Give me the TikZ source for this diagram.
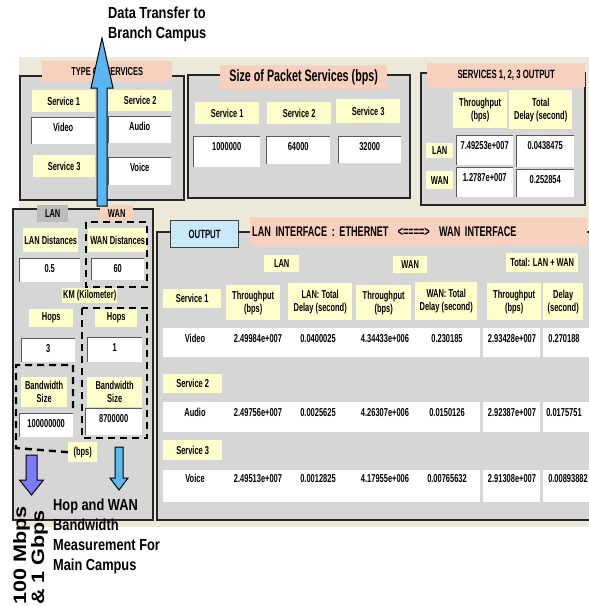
\documentclass[tikz,border=0pt]{standalone}
\usepackage{fontspec}
\setmainfont{Liberation Sans}
\newfontfamily\uifont[FakeStretch=0.65]{Liberation Sans}
\newfontfamily\notefont[FakeStretch=0.8]{Liberation Sans}
\newfontfamily\widefont[FakeStretch=1.2]{Liberation Sans}
\usetikzlibrary{calc}
\definecolor{xpbeige}{HTML}{ECE9D8}
\definecolor{panelgray}{HTML}{D6D6D6}
\definecolor{paleyellow}{HTML}{FFFFCC}
\definecolor{peach}{HTML}{F7D1BD}
\definecolor{langray}{HTML}{BCBCBC}
\definecolor{btnblue}{HTML}{C8E9FA}
\definecolor{upblue}{HTML}{5AB6F2}
\definecolor{lanblue}{HTML}{7C7CFA}
\definecolor{wanblue}{HTML}{5ABAF0}
\tikzset{
  % fenster
  grp/.style={fill=panelgray,draw=black!85,line width=1.4pt},
  ttl/.style={fill=peach,anchor=north west,inner sep=0pt,
              font=\uifont\bfseries\fontsize{11.5}{13}\selectfont},
  lbl/.style={fill=paleyellow,anchor=north west,inner sep=0pt,align=center,
              font=\uifont\bfseries\fontsize{11.5}{13}\selectfont},
  ebox/.style={fill=white,anchor=north west,inner xsep=0pt,inner ysep=3pt,
               text height=11.5pt,text depth=#1,
               font=\uifont\bfseries\fontsize{11.5}{13}\selectfont,
               path picture={\draw[black!65,line width=1.5pt]
                 (path picture bounding box.south west) |- (path picture bounding box.north east);}},
  ebox/.default=8pt,
  btn/.style={fill=btnblue,draw=black!75,line width=1.2pt,anchor=north west,inner sep=0pt,
              font=\uifont\bfseries\fontsize{12}{13}\selectfont},
  band/.style={fill=white,anchor=north west,inner sep=0pt},
  val/.style={anchor=base,inner sep=0pt,font=\uifont\bfseries\fontsize{11.5}{13}\selectfont},
  dashbox/.style={draw=black,line width=2.4pt,dash pattern=on 7pt off 5pt},
  % pfeile
  blk/.style={draw=black,line width=1pt,line join=miter},
  note/.style={anchor=north west,inner sep=0pt,align=left,
               font=\notefont\bfseries\fontsize{16}{20}\selectfont},
}
\begin{document}
\begin{tikzpicture}[x=1pt,y=-1pt]
\useasboundingbox (0,0) rectangle (589,606);
\clip (0,0) rectangle (589,606);
\fill[xpbeige] (19,57) rectangle (600,527);
% gruppen
\draw[grp] (20,76) rectangle (184,200);
\draw[grp] (188,75) rectangle (410,198);
\draw[grp] (421,73) rectangle (585,205);
\draw[grp] (13,209) rectangle (153,520);
\draw[grp] (157,232) rectangle (600,520);
% titel
\node[ttl,minimum width=130pt,minimum height=21pt] (typT) at (42,61) {TYPE OF SERVICES};
\node[ttl,minimum width=167pt,minimum height=24pt,font=\uifont\bfseries\fontsize{16.5}{18}\selectfont] (sizeT) at (220,65) {Size of Packet Services (bps)};
\node[ttl,minimum width=158pt,minimum height=24pt,font=\uifont\bfseries\fontsize{12}{13}\selectfont] (outT) at (427,63) {SERVICES 1, 2, 3 OUTPUT};
\node[ttl,fill=langray,minimum width=31pt,minimum height=17pt] (lanT) at (37,205) {LAN};
\node[ttl,minimum width=33pt,minimum height=17pt] (wanT) at (100,205) {WAN};
\node[ttl,text width=333pt,inner xsep=2pt,minimum height=29pt,align=left,font=\uifont\bfseries\fontsize{14}{15}\selectfont] (ifaceT) at (250,217) {LAN INTERFACE : ETHERNET \ <====> \ WAN INTERFACE};
\node[btn,minimum width=68pt,minimum height=27pt] (outBtn) at (170,220) {OUTPUT};
% type of services
\node[lbl,minimum width=63pt,minimum height=22pt] (typS1) at (32,90) {Service 1};
\node[lbl,minimum width=64pt,minimum height=21pt] (typS2) at (108,90) {Service 2};
\node[lbl,minimum width=62pt,minimum height=22pt] (typS3) at (33,155) {Service 3};
\node[ebox=9.5pt,minimum width=64pt] (typVid) at (31,117) {Video};
\node[ebox=9.5pt,minimum width=63pt] (typAud) at (108,116) {Audio};
\node[ebox=10.5pt,minimum width=63pt] (typVoi) at (108,157) {Voice};
% packet size
\node[lbl,minimum width=64pt,minimum height=22pt] (sizS1) at (195,102) {Service 1};
\node[lbl,minimum width=64pt,minimum height=22pt] (sizS2) at (267,102) {Service 2};
\node[lbl,minimum width=64pt,minimum height=24pt] (sizS3) at (336,99) {Service 3};
\node[ebox=13.5pt,minimum width=67pt] (sizV1) at (193,136) {1000000};
\node[ebox=10.5pt,minimum width=64pt] (sizV2) at (266,136) {64000};
\node[ebox=9.5pt,minimum width=63pt] (sizV3) at (338,136) {32000};
% services output
\node[lbl,minimum width=54pt,minimum height=36pt] (totThr) at (453,92) {Throughput\\(bps)};
\node[lbl,minimum width=63pt,minimum height=39pt] (totDel) at (509,90) {Total\\Delay (second)};
\node[lbl,minimum width=27pt,minimum height=15pt] (totLan) at (426,143) {LAN};
\node[lbl,minimum width=27pt,minimum height=18pt] (totWan) at (426,171) {WAN};
\node[ebox=12.5pt,minimum width=57pt] (totLanThr) at (456,135) {7.49253e+007};
\node[ebox=14.5pt,minimum width=58pt] (totLanDel) at (516,135) {0.0438475};
\node[ebox=12.5pt,minimum width=57pt] (totWanThr) at (456,167) {1.2787e+007};
\node[ebox=10.5pt,minimum width=58pt] (totWanDel) at (516,169) {0.252854};
% lan / wan eingaben
\node[lbl,minimum width=55pt,minimum height=24pt] (lanDist) at (23,228) {LAN Distances};
\node[lbl,minimum width=59pt,minimum height=24pt] (wanDist) at (88,228) {WAN Distances};
\node[ebox=6.5pt,minimum width=61pt] (lanDistV) at (19,258) {0.5};
\node[ebox=4.5pt,minimum width=53pt] (wanDistV) at (91,258) {60};
\node[lbl,minimum width=55pt,minimum height=15pt] (km) at (62,288) {KM (Kilometer)};
\node[lbl,minimum width=44pt,minimum height=18pt] (lanHops) at (29,309) {Hops};
\node[lbl,minimum width=42pt,minimum height=18pt] (wanHops) at (95,309) {Hops};
\node[ebox=6.5pt,minimum width=54pt] (lanHopsV) at (21,338) {3};
\node[ebox=7.5pt,minimum width=55pt] (wanHopsV) at (87,337) {1};
\node[lbl,minimum width=46pt,minimum height=30pt] (lanBw) at (21,377) {Bandwidth\\Size};
\node[lbl,minimum width=55pt,minimum height=30pt] (wanBw) at (87,377) {Bandwidth\\Size};
\node[ebox=6.5pt,minimum width=54pt] (lanBwV) at (19,413) {100000000};
\node[ebox=9.5pt,minimum width=57pt] (wanBwV) at (85,408) {8700000};
\node[lbl,minimum width=29pt,minimum height=20pt] (bps) at (68,442) {(bps)};
\draw[dashbox] (86,222) rectangle (147,287);
\draw[dashbox] (82,308) rectangle (147,438);
\draw[dashbox] (73,408) -- (73,365) -- (16,365) -- (16,448) -- (bps.west);
% ausgabe tabelle
\node[lbl,minimum width=35pt,minimum height=17pt] (outLan) at (264,255) {LAN};
\node[lbl,minimum width=34pt,minimum height=17pt] (outWan) at (393,256) {WAN};
\node[lbl,minimum width=72pt,minimum height=19pt] (outTot) at (506,253) {Total: LAN + WAN};
\node[lbl,minimum width=58pt,minimum height=19pt] (outS1) at (163,289) {Service 1};
\node[lbl,minimum width=54pt,minimum height=35pt] (hLanThr) at (226,285) {Throughput\\(bps)};
\node[lbl,minimum width=64pt,minimum height=37pt] (hLanDel) at (288,283) {LAN: Total\\Delay (second)};
\node[lbl,minimum width=55pt,minimum height=35pt] (hWanThr) at (356,285) {Throughput\\(bps)};
\node[lbl,minimum width=62pt,minimum height=38pt] (hWanDel) at (415,282) {WAN: Total\\Delay (second)};
\node[lbl,minimum width=54pt,minimum height=37pt] (hTotThr) at (487,283) {Throughput\\(bps)};
\node[lbl,minimum width=40pt,minimum height=37pt] (hTotDel) at (543,283) {Delay\\(second)};
\node[lbl,minimum width=59pt,minimum height=19pt] (outS2) at (163,374) {Service 2};
\node[lbl,minimum width=59pt,minimum height=20pt] (outS3) at (163,440) {Service 3};
\node[band,minimum width=317pt,minimum height=29pt] (vidBand) at (163,328) {};
\node[band,minimum width=57pt,minimum height=29pt] (vidThrCell) at (483,328) {};
\node[band,minimum width=60pt,minimum height=29pt] (vidDelCell) at (543,328) {};
\node[band,minimum width=317pt,minimum height=30pt] (audBand) at (163,402) {};
\node[band,minimum width=57pt,minimum height=30pt] (audThrCell) at (483,402) {};
\node[band,minimum width=60pt,minimum height=30pt] (audDelCell) at (543,402) {};
\node[band,minimum width=317pt,minimum height=32pt] (voiBand) at (163,470) {};
\node[band,minimum width=57pt,minimum height=32pt] (voiThrCell) at (483,470) {};
\node[band,minimum width=60pt,minimum height=32pt] (voiDelCell) at (543,470) {};
\node[val] (vidName) at (195,342) {Video};
\node[val] (vidLanThr) at (258,342) {2.49984e+007};
\node[val] (vidLanDel) at (318,342) {0.0400025};
\node[val] (vidWanThr) at (385,342) {4.34433e+006};
\node[val] (vidWanDel) at (447,342) {0.230185};
\node[val] (vidTotThr) at (512,342) {2.93428e+007};
\node[val] (vidTotDel) at (564,342) {0.270188};
\node[val] (audName) at (195,416) {Audio};
\node[val] (audLanThr) at (258,416) {2.49756e+007};
\node[val] (audLanDel) at (318,416) {0.0025625};
\node[val] (audWanThr) at (385,416) {4.26307e+006};
\node[val] (audWanDel) at (447,416) {0.0150126};
\node[val] (audTotThr) at (512,416) {2.92387e+007};
\node[val] (audTotDel) at (564,416) {0.0175751};
\node[val] (voiName) at (195,482) {Voice};
\node[val] (voiLanThr) at (258,482) {2.49513e+007};
\node[val] (voiLanDel) at (318,482) {0.0012825};
\node[val] (voiWanThr) at (385,482) {4.17955e+006};
\node[val] (voiWanDel) at (447,482) {0.00765632};
\node[val] (voiTotThr) at (512,482) {2.91308e+007};
\node[val] (voiTotDel) at (568,482) {0.00893882};
% hinweise
\node[note] (branchNote) at (108,7) {Data Transfer to\\Branch Campus};
\node[note] (hopNote) at (53,499) {Hop and WAN\\Bandwidth\\Measurement For\\Main Campus};
\node[anchor=north west,inner sep=0pt,rotate=90,align=left,
      font=\widefont\bfseries\fontsize{18}{16}\selectfont] (speedNote) at (13,605) {100 Mbps\\\& 1 Gbps};
% pfeile
\coordinate (upFoot) at (102,206);
\coordinate (upTip) at (102,38);
\draw[blk,fill=upblue] ($(upFoot)+(-5,0)$) -- ($(upTip)+(-5,50)$) -- ($(upTip)+(-11,50)$) -- (upTip)
  -- ($(upTip)+(11,50)$) -- ($(upTip)+(5,50)$) -- ($(upFoot)+(5,0)$) -- cycle;
\coordinate (lanFoot) at (31.5,455);
\coordinate (lanTip) at (31.5,495);
\draw[blk,fill=lanblue] ($(lanFoot)+(-5.5,0)$) -- ($(lanTip)+(-5.5,-15)$) -- ($(lanTip)+(-12,-15)$) -- (lanTip)
  -- ($(lanTip)+(12,-15)$) -- ($(lanTip)+(5.5,-15)$) -- ($(lanFoot)+(5.5,0)$) -- cycle;
\coordinate (wanFoot) at (119,447);
\coordinate (wanTip) at (119,490);
\draw[blk,fill=wanblue] ($(wanFoot)+(-4,0)$) -- ($(wanTip)+(-4,-12)$) -- ($(wanTip)+(-9,-12)$) -- (wanTip)
  -- ($(wanTip)+(9,-12)$) -- ($(wanTip)+(4,-12)$) -- ($(wanFoot)+(4,0)$) -- cycle;
\end{tikzpicture}
\end{document}
